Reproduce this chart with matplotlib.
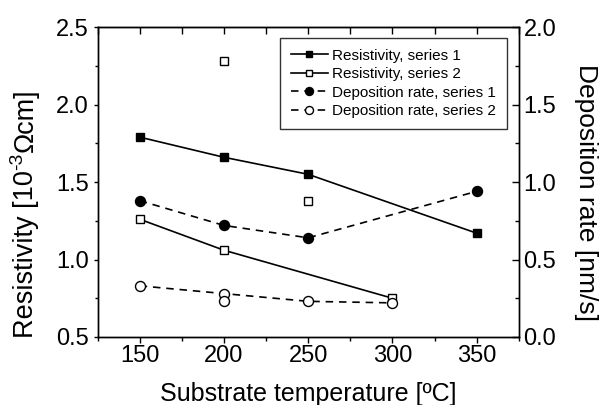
import matplotlib
matplotlib.use("Agg")
import matplotlib.pyplot as plt
from matplotlib.ticker import MultipleLocator

plt.rcParams['font.family'] = ['Liberation Sans', 'DejaVu Sans']

# resistivity (left axis)
temp_res1 = [150, 200, 250, 350]
res1 = [1.79, 1.66, 1.55, 1.17]
temp_res2 = [150, 200, 300]
res2 = [1.26, 1.06, 0.75]
# unconnected points of series 2
temp_res2_extra = [200, 250]
res2_extra = [2.28, 1.38]

# deposition rate (right axis)
temp_dep1 = [150, 200, 250, 350]
dep1 = [0.88, 0.72, 0.64, 0.94]
temp_dep2 = [150, 200, 250, 300]
dep2 = [0.33, 0.28, 0.23, 0.22]
temp_dep2_extra = [200]
dep2_extra = [0.23]

labels = ["Resistivity, series 1", "Resistivity, series 2",
          "Deposition rate, series 1", "Deposition rate, series 2"]

fig = plt.figure(figsize=(6.06, 4.05), dpi=100)
ax = fig.add_axes([0.161, 0.168, 0.695, 0.765])
ax2 = ax.twinx()

lw = 1.2
ms = 6.2
dash = (4.5, 3.5)

h1, = ax.plot(temp_res1, res1, color="black", lw=lw, marker="s", ms=ms,
              mfc="black", mec="black", label=labels[0])
h2, = ax.plot(temp_res2, res2, color="black", lw=lw, marker="s", ms=ms,
              mfc="white", mec="black", mew=1.0, label=labels[1])
ax.plot(temp_res2_extra, res2_extra, ls="none", marker="s", ms=ms,
        mfc="white", mec="black", mew=1.0)

h3, = ax2.plot(temp_dep1, dep1, color="black", lw=lw, ls=(0, dash), marker="o",
               ms=ms + 1.0, mfc="black", mec="black", label=labels[2])
h4, = ax2.plot(temp_dep2, dep2, color="black", lw=lw, ls=(0, dash), marker="o",
               ms=ms + 1.0, mfc="white", mec="black", mew=1.0, label=labels[3])
ax2.plot(temp_dep2_extra, dep2_extra, ls="none", marker="o", ms=ms + 1.0,
         mfc="white", mec="black", mew=1.0)

ax.set_xlim(125, 375)
ax.set_ylim(0.5, 2.5)
ax2.set_ylim(0.0, 2.0)

ax.xaxis.set_major_locator(MultipleLocator(50))
ax.xaxis.set_minor_locator(MultipleLocator(25))
ax.yaxis.set_major_locator(MultipleLocator(0.5))
ax.yaxis.set_minor_locator(MultipleLocator(0.25))
ax2.yaxis.set_major_locator(MultipleLocator(0.5))
ax2.yaxis.set_minor_locator(MultipleLocator(0.25))
ax.yaxis.set_major_formatter(plt.FormatStrFormatter("%.1f"))
ax2.yaxis.set_major_formatter(plt.FormatStrFormatter("%.1f"))

ax.tick_params(axis="x", which="major", labelsize=17, direction="out",
               length=4.5, width=1, pad=1)
ax.tick_params(axis="x", which="minor", direction="out", length=3, width=1)
ax.tick_params(axis="y", which="major", labelsize=17, direction="out",
               length=3, width=1, pad=3.5)
ax.tick_params(axis="y", which="minor", direction="out", length=2.4, width=1)
ax2.tick_params(axis="y", which="major", labelsize=17, direction="in",
                length=5, width=1, pad=3.5)
ax2.tick_params(axis="y", which="minor", direction="in", length=3, width=1)

top = ax.secondary_xaxis("top")
top.xaxis.set_major_locator(MultipleLocator(50))
top.xaxis.set_minor_locator(MultipleLocator(25))
top.tick_params(which="both", direction="in", length=4.8, width=1,
                labeltop=False)

for a in (ax, ax2):
    for s in a.spines.values():
        s.set_linewidth(1.0)

fig.text(0.509, 0.0099, "Substrate temperature [ºC]", fontsize=18,
         ha="center", va="baseline")
fig.text(0.967, 0.525, "Deposition rate [nm/s]", fontsize=19,
         ha="center", va="center", rotation=270)

# left label built from pieces so the exponent can be bigger than mathtext's
t1 = fig.text(0.064, 0.165, "Resistivity [10", fontsize=19.5, rotation=90,
              rotation_mode="anchor", ha="left", va="bottom")
t2 = ax.annotate("-3", xy=(1, 1), xycoords=t1, xytext=(-9, 0.5),
                 textcoords="offset points", fontsize=14, rotation=90,
                 rotation_mode="anchor", ha="left", va="bottom",
                 annotation_clip=False)
ax.annotate("Ωcm]", xy=(1, 1), xycoords=(t1, t2), xytext=(0, 0.5),
            textcoords="offset points", fontsize=19.5, rotation=90,
            rotation_mode="anchor", ha="left", va="bottom",
            annotation_clip=False)

leg = ax2.legend(handles=[h1, h2, h3, h4], loc="upper right",
                 bbox_to_anchor=(0.972, 0.965), fontsize=11, frameon=True,
                 fancybox=False, edgecolor="black", handlelength=2.4,
                 handletextpad=0.3, borderpad=0.7, labelspacing=0.3,
                 borderaxespad=0, markerscale=0.8)
leg.get_frame().set_linewidth(1.0)

fig.savefig("out.png", dpi=100)
